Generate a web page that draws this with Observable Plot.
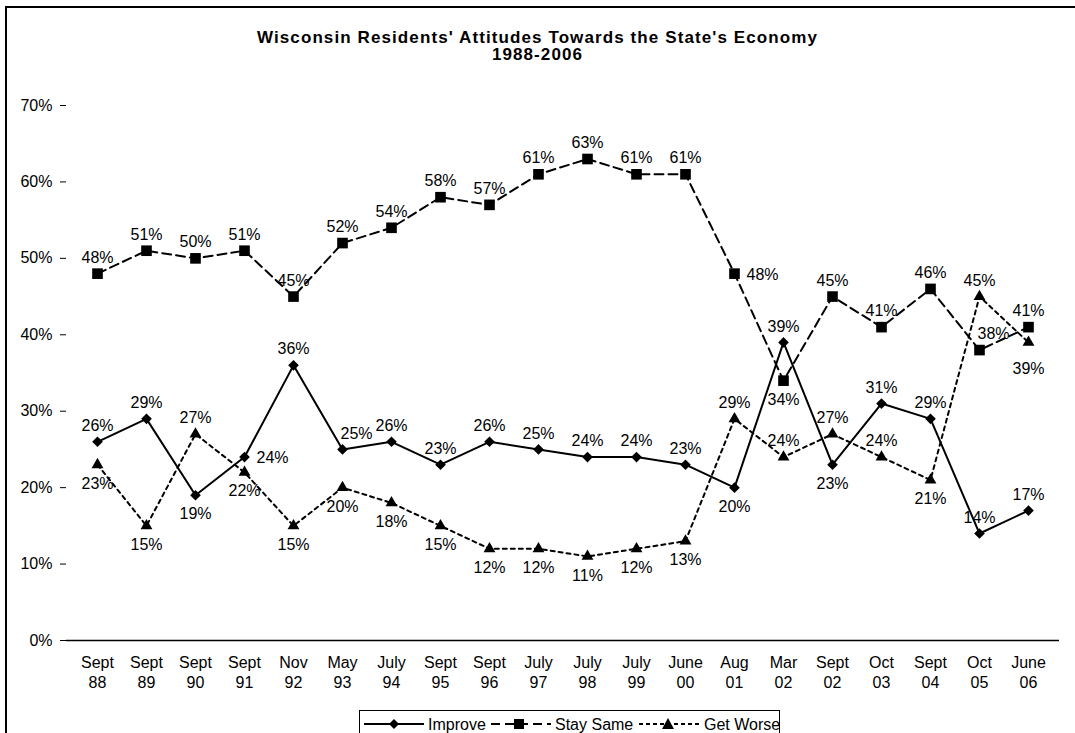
<!DOCTYPE html>
<html>
<head>
<meta charset="utf-8">
<script src="https://cdn.jsdelivr.net/npm/d3@7"></script>
<script src="https://cdn.jsdelivr.net/npm/@observablehq/plot@0.6"></script>
<style>
  html, body { margin: 0; padding: 0; background: #fff; overflow: hidden; }
  #page { position: relative; width: 1075px; height: 733px; overflow: hidden; background: #fff;
          font-family: "Liberation Sans", Arial, Helvetica, sans-serif; color: #000; }
  #frame { position: absolute; left: 5px; top: 6px; width: 1070px; height: 727px; border-left: 2px solid #000; border-top: 2px solid #000; box-sizing: border-box; }
  #title { position: absolute; left: 0; top: 29px; width: 1075px; text-align: center; font-weight: bold;
           font-size: 17px; line-height: 17px; letter-spacing: 1.1px; }
  #chart { position: absolute; left: 0; top: 0; }
  #legend { position: absolute; left: 359px; top: 710px; width: 421px; height: 32px; border: 1px solid #000; box-sizing: border-box; background: #fff; }
</style>
</head>
<body>
<div id="page">
  <div id="frame"></div>
  <div id="title">Wisconsin Residents' Attitudes Towards the State's Economy<br>1988-2006</div>
  <div id="chart"></div>
  <div id="legend"></div>
</div>
<script>
// ---- Data ----
const months = ["Sept","Sept","Sept","Sept","Nov","May","July","Sept","Sept","July","July","July","June","Aug","Mar","Sept","Oct","Sept","Oct","June"];
const years  = ["88","89","90","91","92","93","94","95","96","97","98","99","00","01","02","02","03","04","05","06"];
const improve   = [26,29,19,24,36,25,26,23,26,25,24,24,23,20,39,23,31,29,14,17];
const staySame  = [48,51,50,51,45,52,54,58,57,61,63,61,61,48,34,45,41,46,38,41];
const getWorse  = [23,15,27,22,15,20,18,15,12,12,11,12,13,29,24,27,24,21,45,39];
const yTicks = [0,10,20,30,40,50,60,70];
// label placement (t = above, b = below, r = right, tr = above-right, bb = further below)
const improvePos  = ["t","t","b","r","t","tr","t","t","t","t","t","t","t","b","t","b","t","t","t","t"];
const staySamePos = ["t","t","t","t","t","t","t","t","t","t","t","t","t","r","b","t","t","t","tr","t"];
const getWorsePos = ["b","b","t","b","b","b","b","b","b","b","b","b","b","t","t","t","t","b","t","bb"];

// ---- Build table ----
const cats = months.map((m, i) => m + " " + years[i]);
const seriesDefs = [
  {name: "Improve", values: improve, pos: improvePos, symbol: "diamond2", r: 4.8, dash: null},
  {name: "Stay Same", values: staySame, pos: staySamePos, symbol: "square", r: 6, dash: "9,5"},
  {name: "Get Worse", values: getWorse, pos: getWorsePos, symbol: "triangle", r: 4.4, dash: "4,4"}
];
const rows = [];
for (const s of seriesDefs) {
  s.values.forEach((v, i) => rows.push({cat: cats[i], series: s.name, value: v, pos: s.pos[i]}));
}

const FS = 16;
const marks = [];
marks.push(Plot.ruleY([0], {stroke: "#000", strokeWidth: 1.5}));
for (const s of seriesDefs) {
  const d = rows.filter(r => r.series === s.name);
  marks.push(Plot.line(d, {x: "cat", y: "value", stroke: "#000", strokeWidth: 2, strokeDasharray: s.dash || undefined}));
}
for (const s of seriesDefs) {
  const d = rows.filter(r => r.series === s.name);
  marks.push(Plot.dot(d, {x: "cat", y: "value", symbol: () => s.symbol, fill: "#000", stroke: "none", r: s.r}));
}
const lab = r => r.value + "%";
const place = {
  t:  {dx: 0, dy: -16, textAnchor: "middle"},
  b:  {dx: 0, dy: 19, textAnchor: "middle"},
  bb: {dx: 0, dy: 26, textAnchor: "middle"},
  r:  {dx: 12, dy: 1, textAnchor: "start"},
  tr: {dx: 14, dy: -16, textAnchor: "middle"}
};
for (const k of Object.keys(place)) {
  const d = rows.filter(r => r.pos === k);
  marks.push(Plot.text(d, {x: "cat", y: "value", text: lab, fill: "#000", fontSize: FS, ...place[k]}));
}
// x-axis two-line labels
marks.push(Plot.text(cats, {x: d => d, y: () => 0, text: (d, i) => months[i], dy: 22, fontSize: FS, fill: "#000"}));
marks.push(Plot.text(cats, {x: d => d, y: () => 0, text: (d, i) => years[i], dy: 42, fontSize: FS, fill: "#000"}));

const chart = Plot.plot({
  width: 1075,
  height: 700,
  marginLeft: 66,
  marginRight: 16,
  marginTop: 105,
  marginBottom: 60,
  style: {fontFamily: '"Liberation Sans", Arial, Helvetica, sans-serif', fontSize: FS + "px", color: "#000", background: "transparent", overflow: "visible"},
  x: {type: "point", domain: cats, padding: 0.5, align: 0.5, axis: null},
  y: {domain: [0, 70], ticks: yTicks, tickFormat: d => d + "%", tickSize: 6, tickPadding: 8, label: null},
  marks
});
document.getElementById("chart").appendChild(chart);

// ---- Legend ----
const lg = `
<svg width="421" height="32" xmlns="http://www.w3.org/2000/svg" style="font-family:'Liberation Sans', Arial, sans-serif;font-size:16px">
  <line x1="4" y1="13" x2="64" y2="13" stroke="#000" stroke-width="2"/>
  <path d="M34,8L39,13L34,18L29,13Z" fill="#000"/>
  <text x="68" y="13" dominant-baseline="central">Improve</text>
  <line x1="131" y1="13" x2="191" y2="13" stroke="#000" stroke-width="2" stroke-dasharray="9,5"/>
  <rect x="154" y="8" width="10" height="10" fill="#000"/>
  <text x="195" y="13" dominant-baseline="central">Stay Same</text>
  <line x1="279" y1="13" x2="341" y2="13" stroke="#000" stroke-width="2" stroke-dasharray="4,3"/>
  <path d="M308,7L314,18L302,18Z" fill="#000"/>
  <text x="344" y="13" dominant-baseline="central">Get Worse</text>
</svg>`;
document.getElementById("legend").innerHTML = lg;
</script>
</body>
</html>
